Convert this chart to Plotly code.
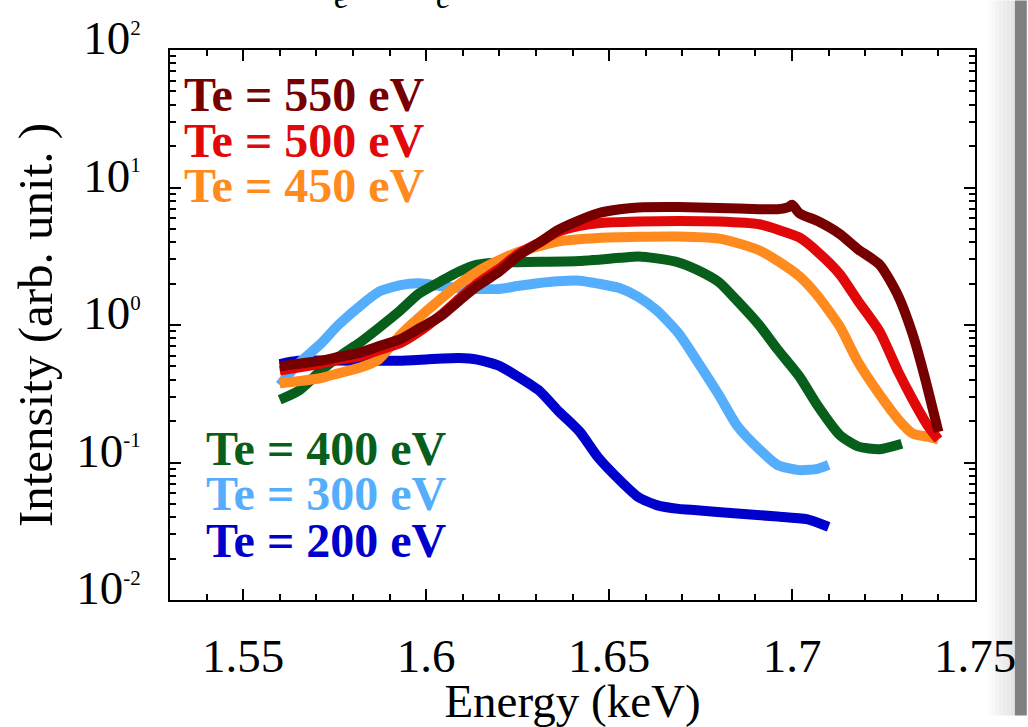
import plotly.graph_objects as go

# Photon energy (keV) and intensity (arb. unit.) for each electron temperature
e_200 = [1.560, 1.565, 1.579, 1.593, 1.609, 1.614, 1.620, 1.625, 1.631, 1.636, 1.642,
         1.647, 1.653, 1.658, 1.663, 1.669, 1.674, 1.685, 1.696, 1.704, 1.710]
i_200 = [0.52, 0.55, 0.55, 0.55, 0.575, 0.56, 0.505, 0.422, 0.331, 0.239, 0.167,
         0.109, 0.074, 0.056, 0.049, 0.046, 0.045, 0.0425, 0.0405, 0.0387, 0.034]

e_300 = [1.560, 1.565, 1.571, 1.576, 1.582, 1.587, 1.593, 1.598, 1.604, 1.609, 1.614,
         1.620, 1.625, 1.631, 1.636, 1.642, 1.647, 1.653, 1.658, 1.663, 1.669, 1.674,
         1.680, 1.685, 1.691, 1.696, 1.702, 1.707, 1.710]
i_300 = [0.365, 0.522, 0.722, 1.0, 1.38, 1.74, 1.95, 2.01, 1.92, 1.86, 1.83,
         1.83, 1.92, 2.02, 2.08, 2.1, 2.0, 1.85, 1.6, 1.28, 0.87, 0.55,
         0.31, 0.185, 0.125, 0.096, 0.088, 0.09, 0.096]

e_400 = [1.560, 1.565, 1.571, 1.576, 1.582, 1.587, 1.593, 1.598, 1.604, 1.609, 1.614,
         1.620, 1.631, 1.642, 1.653, 1.658, 1.663, 1.669, 1.674, 1.680, 1.685, 1.691,
         1.696, 1.702, 1.707, 1.713, 1.718, 1.724, 1.730]
i_400 = [0.286, 0.33, 0.458, 0.585, 0.75, 0.95, 1.28, 1.69, 2.08, 2.45, 2.75,
         2.85, 2.88, 2.92, 3.08, 3.15, 3.05, 2.85, 2.52, 2.05, 1.50, 1.0,
         0.666, 0.422, 0.259, 0.159, 0.131, 0.125, 0.137]

e_450 = [1.560, 1.565, 1.571, 1.576, 1.582, 1.587, 1.593, 1.598, 1.604, 1.609, 1.614,
         1.620, 1.625, 1.631, 1.636, 1.647, 1.658, 1.669, 1.680, 1.685, 1.691, 1.696,
         1.702, 1.707, 1.713, 1.718, 1.724, 1.729, 1.733, 1.737, 1.740]
i_450 = [0.377, 0.39, 0.41, 0.445, 0.49, 0.56, 0.85, 1.13, 1.55, 1.98, 2.45,
         2.97, 3.38, 3.75, 4.05, 4.30, 4.38, 4.40, 4.25, 3.95, 3.50, 2.93,
         2.26, 1.63, 0.98, 0.54, 0.31, 0.206, 0.162, 0.154, 0.147]

e_500 = [1.560, 1.565, 1.571, 1.576, 1.582, 1.587, 1.593, 1.598, 1.604, 1.609, 1.614,
         1.620, 1.625, 1.631, 1.636, 1.642, 1.647, 1.658, 1.669, 1.680, 1.691, 1.696,
         1.702, 1.707, 1.713, 1.718, 1.724, 1.729, 1.733, 1.737, 1.740]
i_500 = [0.466, 0.49, 0.522, 0.557, 0.594, 0.655, 0.74, 0.89, 1.18, 1.55, 2.01,
         2.57, 3.28, 3.99, 4.75, 5.25, 5.50, 5.65, 5.70, 5.65, 5.40, 4.95,
         4.33, 3.40, 2.35, 1.50, 0.89, 0.458, 0.286, 0.187, 0.147]

e_550 = [1.560, 1.565, 1.571, 1.576, 1.582, 1.587, 1.593, 1.598, 1.604, 1.609, 1.614,
         1.620, 1.625, 1.631, 1.636, 1.642, 1.647, 1.653, 1.658, 1.669, 1.680, 1.691,
         1.696, 1.699, 1.700, 1.702, 1.707, 1.713, 1.718, 1.724, 1.729, 1.733, 1.736, 1.740]
i_550 = [0.50, 0.522, 0.548, 0.585, 0.63, 0.70, 0.79, 0.94, 1.16, 1.50, 1.92,
         2.45, 3.17, 3.99, 4.9, 5.8, 6.5, 6.95, 7.15, 7.2, 7.1, 6.95,
         6.95, 7.2, 7.5, 6.5, 5.70, 4.6, 3.56, 2.74, 1.63, 0.85, 0.444, 0.167]

series = [
    ("Te = 200 eV", e_200, i_200, "#0000cc"),
    ("Te = 300 eV", e_300, i_300, "#55aefc"),
    ("Te = 400 eV", e_400, i_400, "#075f1b"),
    ("Te = 450 eV", e_450, i_450, "#ff8a1e"),
    ("Te = 500 eV", e_500, i_500, "#e00808"),
    ("Te = 550 eV", e_550, i_550, "#760000"),
]

x_tickvals = [1.55, 1.6, 1.65, 1.7, 1.75]
x_ticktext = ["1.55", "1.6", "1.65", "1.7", "1.75"]
y_tickvals = [0.01, 0.1, 1, 10, 100]
y_exponents = ["-2", "-1", "0", "1", "2"]

SERIF = "Liberation Serif"

fig = go.Figure()
for name, e, i, color in series:
    fig.add_trace(go.Scatter(
        x=e, y=i, mode="lines", name=name,
        line=dict(color=color, width=10, shape="spline", smoothing=0.6),
        showlegend=False,
    ))

# Label blocks for the temperatures
upper = [("Te = 550 eV", "#760000", 0.9186),
         ("Te = 500 eV", "#e00808", 0.836),
         ("Te = 450 eV", "#ff8a1e", 0.754)]
lower = [("Te = 400 eV", "#075f1b", 0.276),
         ("Te = 300 eV", "#55aefc", 0.193),
         ("Te = 200 eV", "#0000cc", 0.108)]
annotations = []
for txt, col, yy in upper:
    annotations.append(dict(text=f"<b>{txt}</b>", x=0.015, y=yy, xref="paper", yref="paper",
                            xanchor="left", yanchor="middle", showarrow=False,
                            font=dict(family=SERIF, size=48, color=col)))
for txt, col, yy in lower:
    annotations.append(dict(text=f"<b>{txt}</b>", x=0.042, y=yy, xref="paper", yref="paper",
                            xanchor="left", yanchor="middle", showarrow=False,
                            font=dict(family=SERIF, size=48, color=col)))

# Subscripts of the heading that runs off the top edge of the page
for sub, px in (("e", 342), ("c", 445)):
    annotations.append(dict(text=f"<i>{sub}</i>", x=(px - 170) / 808, y=(612 - 13) / 565,
                            xref="paper", yref="paper", xanchor="center", yanchor="bottom",
                            showarrow=False,
                            font=dict(family=SERIF, size=34, color="black")))

# Page edge strip on the right
shapes = []
grays = ["#fcfcfc", "#f8f8f8", "#f4f4f4", "#f0f0f0", "#ececec", "#e8e8e8", "#e4e4e4"]
x0 = 990
for k, g in enumerate(grays):
    xa = x0 + k * 4
    shapes.append(dict(type="rect", xref="paper", yref="paper",
                       x0=(xa - 170) / 808, x1=(xa + 4 - 170) / 808,
                       y0=-0.21, y1=1.09, fillcolor=g, line=dict(width=0), layer="below"))
shapes.append(dict(type="rect", xref="paper", yref="paper",
                   x0=(1018 - 170) / 808, x1=(1030 - 170) / 808,
                   y0=-0.21, y1=1.09, fillcolor="#808080", line=dict(width=0), layer="below"))

fig.update_layout(
    width=1028, height=727,
    margin=dict(l=170, r=50, t=47, b=115),
    paper_bgcolor="white", plot_bgcolor="white",
    font=dict(family=SERIF, color="black"),
    annotations=annotations,
    shapes=shapes,
    xaxis=dict(
        range=[1.53, 1.75], tickmode="array", tickvals=x_tickvals, ticktext=x_ticktext,
        ticks="inside", ticklen=11, tickwidth=1.5, tickcolor="black",
        showline=True, linecolor="black", linewidth=1.5, mirror="ticks",
        showgrid=False, zeroline=False,
        minor=dict(ticks="inside", tickmode="linear", tick0=1.53, dtick=0.01,
                   ticklen=6, tickwidth=1.5, tickcolor="black", showgrid=False),
        tickfont=dict(family=SERIF, size=47, color="black"),
        ticklabelstandoff=14,
        title=dict(text="Energy (keV)", font=dict(family=SERIF, size=47, color="black"),
                   standoff=0),
    ),
    yaxis=dict(
        type="log", range=[-2, 2], tickmode="array", tickvals=y_tickvals,
        ticktext=[f"10<sup><span style='font-size:21px'>{p}</span></sup>" for p in y_exponents],
        ticks="inside", ticklen=11, tickwidth=1.5, tickcolor="black",
        showline=True, linecolor="black", linewidth=1.5, mirror="ticks",
        showgrid=False, zeroline=False,
        minor=dict(ticks="inside", dtick="D1", ticklen=6, tickwidth=1.5,
                   tickcolor="black", showgrid=False),
        tickfont=dict(family=SERIF, size=47, color="black"),
        ticklabelstandoff=18, ticklabelshift=-12,
        title=dict(text="Intensity (arb. unit. )", font=dict(family=SERIF, size=49, color="black"),
                   standoff=8),
    ),
)

fig.write_html("out.html")
